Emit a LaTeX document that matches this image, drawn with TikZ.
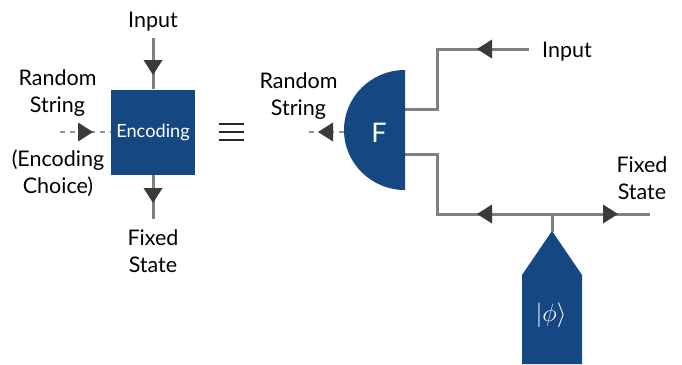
\documentclass[tikz,border=0pt]{standalone}
\usepackage{fontspec}
\setmainfont{Lato}
\usetikzlibrary{calc}
\definecolor{qblue}{HTML}{154782}
\definecolor{qgray}{HTML}{808080}
\definecolor{qdark}{HTML}{3A3A3A}
\tikzset{
  wire/.style={draw=qgray,line width=3pt},
  dashwire/.style={draw=qgray!85,line width=2.2pt,dash pattern=on 5pt off 5pt},
  lab/.style={font=\fontsize{21.5}{27}\selectfont,text=black,align=center,inner sep=0pt},
  tiplabel/.style={font=\fontsize{18.2}{20}\selectfont,text=white,inner sep=0pt},
  blockfill/.style={fill=qblue,draw=none},
  headfill/.style={fill=qdark,draw=none},
}
\newcommand{\headat}[2]{\fill[headfill,shift={(#1)},rotate=#2] (-8,-9.5) -- (7,0) -- (-8,9.5) -- cycle;}
\begin{document}
\begin{tikzpicture}[x=1pt,y=-1pt]
\useasboundingbox (0,0) rectangle (682,364);
% left block
\coordinate (inA) at (153,38);
\coordinate (outA) at (153,219);
\coordinate (rsA) at (60,132);
\draw[wire] (inA) -- (153,89);
\draw[wire] (153,174) -- (outA);
\draw[dashwire] (rsA) -- (111,132);
\node[blockfill,minimum width=84pt,minimum height=85pt,inner sep=0pt,tiplabel] (enc) at (153,132.5) {Encoding};
\headat{153,68}{-90}
\headat{153,196}{-90}
\headat{86,132}{0}
\node[lab] (lInA) at (153,21.5) {Input};
\node[lab] (lRsA) at (57.5,93.5) {Random\\String};
\node[lab] (lChoice) at (58,173) {(Encoding\\Choice)};
\node[lab] (lOutA) at (153,251) {Fixed\\State};
% equivalence
\coordinate (e1) at (219,124); \coordinate (e1b) at (244,124);
\coordinate (e2) at (219,132); \coordinate (e2b) at (244,132);
\coordinate (e3) at (219,140); \coordinate (e3b) at (244,140);
\draw[black!85,line width=2.2pt] (e1) -- (e1b) (e2) -- (e2b) (e3) -- (e3b);
% right block wires
\coordinate (fU) at (405,109);
\coordinate (fL) at (405,154);
\coordinate (inB) at (529,49);
\coordinate (outB) at (650,214);
\coordinate (joint) at (552,214);
\coordinate (phiTip) at (552,232);
\coordinate (fW) at (344,132);
\coordinate (rsB) at (305,132);
\draw[wire,line join=miter] (fU) -- (437,109) -- (437,49) -- (inB);
\draw[wire,line join=miter] (fL) -- (437,154) -- (437,214) -- (outB);
\draw[wire] (joint) -- (phiTip);
\draw[dashwire] (fW) -- (rsB);
% half disc
\fill[blockfill] (405,70) arc[start angle=270,end angle=90,x radius=61,y radius=60] -- cycle;
\node[font=\fontsize{27}{27}\selectfont,text=white,inner sep=0pt] (F) at (379,133) {F};
% state
\fill[blockfill] (552,231) -- (582,275) -- (582,364) -- (522,364) -- (522,275) -- cycle;
\node[font=\fontsize{27}{27}\selectfont,text=white,inner sep=0pt] (phi) at (551,315) {$|\phi\rangle$};
\headat{325,132}{180}
\headat{484,49}{180}
\headat{484,214}{180}
\headat{611,214}{0}
\node[lab] (lInB) at (567,51.5) {Input};
\node[lab] (lRsB) at (298.5,96) {Random\\String};
\node[lab] (lOutB) at (642,178) {Fixed\\State};
\end{tikzpicture}
\end{document}
